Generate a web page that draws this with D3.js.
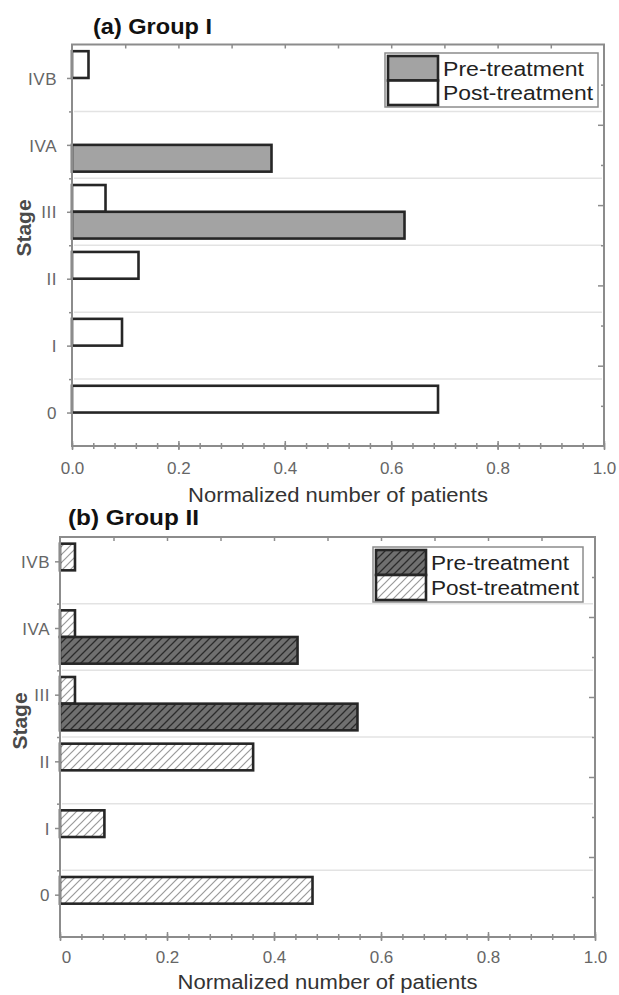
<!DOCTYPE html>
<html>
<head>
<meta charset="utf-8">
<script src="https://cdn.jsdelivr.net/npm/d3@7"></script>
<style>
  body { margin: 0; background: #fff; }
  svg { display: block; }
  text { font-family: "Liberation Sans", Arial, sans-serif; }
</style>
</head>
<body>
<svg id="fig" width="619" height="995"></svg>
<script>
// ---- data ----
const stages = ["0", "I", "II", "III", "IVA", "IVB"];
const seriesNames = ["Pre-treatment", "Post-treatment"];
const groupIPre   = [0, 0, 0, 0.625, 0.375, 0];
const groupIPost  = [0.688, 0.094, 0.125, 0.063, 0, 0.031];
const groupIIPre  = [0, 0, 0, 0.556, 0.444, 0];
const groupIIPost = [0.472, 0.083, 0.361, 0.028, 0.028, 0.028];
const xMajorTicks = [0, 0.2, 0.4, 0.6, 0.8, 1.0];
const xTickLabelsI  = ["0.0", "0.2", "0.4", "0.6", "0.8", "1.0"];
const xTickLabelsII = ["0", "0.2", "0.4", "0.6", "0.8", "1.0"];
const panelTitles = ["(a) Group I", "(b) Group II"];
const xAxisTitle = "Normalized number of patients";
const yAxisTitle = "Stage";

// ---- layout of the two stacked panels ----
const panels = [
  { title: panelTitles[0], pre: groupIPre, post: groupIPost, xLabels: xTickLabelsI,
    left: 72, right: 604, top: 44.5, bottom: 446,
    titleX: 93, titleY: 34, titleW: 119,
    tickLabelY: 474, axisTitleY: 502, stageX: 24, stageY: 228,
    yLabelEnd: 57, yLabelShift: 0, firstXLabelNudge: 0,
    legend: { x: 385, y: 53, w: 213, h: 54, textW: [141, 150] },
    hatched: false },
  { title: panelTitles[1], pre: groupIIPre, post: groupIIPost, xLabels: xTickLabelsII,
    left: 60, right: 595, top: 537, bottom: 937,
    titleX: 68, titleY: 525, titleW: 131,
    tickLabelY: 963, axisTitleY: 989, stageX: 20, stageY: 721,
    yLabelEnd: 50, yLabelShift: -9, firstXLabelNudge: 6,
    legend: { x: 373, y: 547, w: 210, h: 55, textW: [138, 148] },
    hatched: true }
];

const svg = d3.select("#fig");
const frameColor = "#8c8c8c";
const barStroke = "#262626";

// hatch patterns for the Group II bars
const defs = svg.append("defs");
function hatch(id, bg, line, w) {
  const p = defs.append("pattern").attr("id", id)
    .attr("patternUnits", "userSpaceOnUse").attr("width", 8).attr("height", 8);
  p.append("rect").attr("width", 8).attr("height", 8).attr("fill", bg);
  p.append("path").attr("d", "M-2,2 L2,-2 M0,8 L8,0 M6,10 L10,6")
    .attr("stroke", line).attr("stroke-width", w);
}
hatch("hatchDark", "#707070", "#2b2b2b", 1.3);
hatch("hatchLight", "#ffffff", "#9a9a9a", 1.2);

panels.forEach(P => {
  const g = svg.append("g");
  const x = d3.scaleLinear().domain([0, 1]).range([P.left, P.right]);
  const y = d3.scaleLinear().domain([-0.5, 5.5]).range([P.bottom, P.top]);
  const yRight = d3.scaleLinear().domain([0, 1]).range([P.bottom, P.top]);
  const preFill = P.hatched ? "url(#hatchDark)" : "#a3a3a3";
  const postFill = P.hatched ? "url(#hatchLight)" : "#ffffff";

  // horizontal grid between stages
  g.append("g").selectAll("line").data(d3.range(0.5, 5, 1)).join("line")
    .attr("x1", P.left + 2).attr("x2", P.right - 2)
    .attr("y1", d => y(d)).attr("y2", d => y(d))
    .attr("stroke", "#e3e3e3").attr("stroke-width", 1.5);

  // bars: post-treatment above the stage tick, pre-treatment below it
  const bh = y(0) - y(0.4);
  const preData = P.pre.map((v, i) => ({ v, i })).filter(d => d.v > 0);
  const postData = P.post.map((v, i) => ({ v, i })).filter(d => d.v > 0);
  g.append("g").selectAll("rect").data(postData).join("rect")
    .attr("x", x(0)).attr("y", d => y(d.i + 0.4))
    .attr("width", d => x(d.v) - x(0)).attr("height", bh)
    .attr("fill", postFill).attr("stroke", barStroke).attr("stroke-width", 2.6);
  g.append("g").selectAll("rect").data(preData).join("rect")
    .attr("x", x(0)).attr("y", d => y(d.i))
    .attr("width", d => x(d.v) - x(0)).attr("height", bh)
    .attr("fill", preFill).attr("stroke", barStroke).attr("stroke-width", 2.6);

  // frame
  g.append("rect").attr("x", P.left).attr("y", P.top)
    .attr("width", P.right - P.left).attr("height", P.bottom - P.top)
    .attr("fill", "none").attr("stroke", frameColor).attr("stroke-width", 2);

  // bottom axis: minor and major ticks crossing the axis line
  const bMinor = g.append("g").attr("transform", `translate(0,${P.bottom})`)
    .call(d3.axisBottom(x).tickValues(d3.range(0, 1.0001, 0.04)).tickSize(3).tickFormat(""));
  bMinor.selectAll(".tick line").attr("y1", -3);
  const bMajor = g.append("g").attr("transform", `translate(0,${P.bottom})`)
    .call(d3.axisBottom(x).tickValues(xMajorTicks).tickSize(4)
      .tickFormat((d, i) => P.xLabels[i]));
  bMajor.selectAll(".tick line").attr("y1", -5);
  bMajor.selectAll(".tick text")
    .attr("y", P.tickLabelY - P.bottom).attr("dy", 0)
    .attr("dx", (d, i) => i === 0 ? P.firstXLabelNudge : 0)
    .attr("fill", "#666").attr("font-size", 17);

  // top axis ticks, pointing inward
  g.append("g").attr("transform", `translate(0,${P.top})`)
    .call(d3.axisTop(x).tickValues(d3.range(0.1, 0.95, 0.1)).tickSize(-4).tickFormat(""));

  // left axis: stage ticks and labels, minor ticks at the grid lines
  g.append("g").attr("transform", `translate(${P.left},0)`)
    .call(d3.axisLeft(y).tickValues(d3.range(0.5, 5, 1)).tickSize(3).tickFormat(""));
  const lMajor = g.append("g").attr("transform", `translate(${P.left},${P.yLabelShift})`)
    .call(d3.axisLeft(y).tickValues(d3.range(0, 6)).tickSize(5)
      .tickFormat(i => stages[i]));
  lMajor.selectAll(".tick text")
    .attr("x", P.yLabelEnd - P.left).attr("dy", "0.36em")
    .attr("fill", "#666").attr("font-size", 17).attr("letter-spacing", 0.5);

  // right axis ticks, pointing inward
  const rAxis = g.append("g").attr("transform", `translate(${P.right},0)`)
    .call(d3.axisRight(yRight).tickValues(d3.range(0.1, 0.95, 0.1)).tickSize(-5).tickFormat(""));
  rAxis.selectAll(".tick line").attr("x2", (d, i) => i % 2 === 0 ? -3 : -6);

  g.selectAll(".domain").remove();
  g.selectAll(".tick line").attr("stroke", frameColor).attr("stroke-width", 1.5);

  // titles
  g.append("text").attr("x", P.titleX).attr("y", P.titleY)
    .attr("font-size", 22).attr("font-weight", "bold").attr("fill", "#111")
    .attr("textLength", P.titleW).attr("lengthAdjust", "spacingAndGlyphs")
    .text(P.title);
  g.append("text").attr("x", (P.left + P.right) / 2).attr("y", P.axisTitleY)
    .attr("text-anchor", "middle").attr("font-size", 20).attr("fill", "#333")
    .attr("textLength", 300).attr("lengthAdjust", "spacingAndGlyphs")
    .text(xAxisTitle);
  g.append("text")
    .attr("transform", `translate(${P.stageX},${P.stageY}) rotate(-90)`)
    .attr("text-anchor", "middle").attr("dy", "0.35em")
    .attr("font-size", 21).attr("font-weight", "bold").attr("fill", "#4a4a4a")
    .text(yAxisTitle);

  // legend
  const L = P.legend;
  const lg = g.append("g");
  lg.append("rect").attr("x", L.x).attr("y", L.y).attr("width", L.w).attr("height", L.h)
    .attr("fill", "#fff").attr("stroke", frameColor).attr("stroke-width", 1.5);
  const rowH = (L.h - 5) / 2;
  [preFill, postFill].forEach((fill, k) => {
    const ry = L.y + 3 + k * rowH;
    lg.append("rect").attr("x", L.x + 3).attr("y", ry).attr("width", 50).attr("height", rowH)
      .attr("fill", fill).attr("stroke", barStroke).attr("stroke-width", 2.6);
    lg.append("text").attr("x", L.x + 58).attr("y", ry + rowH / 2 + 7.5)
      .attr("font-size", 20.5).attr("fill", "#222")
      .attr("textLength", L.textW[k]).attr("lengthAdjust", "spacingAndGlyphs")
      .text(seriesNames[k]);
  });
});
</script>
</body>
</html>
